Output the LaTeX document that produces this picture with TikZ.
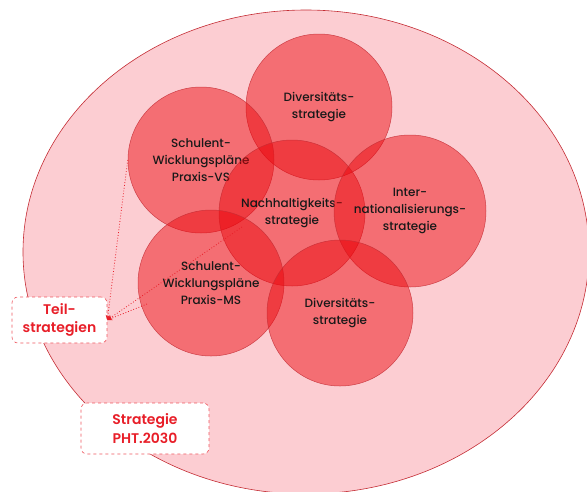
\documentclass[tikz,border=0pt]{standalone}
\usepackage{fontspec}
\setmainfont{Poppins}
\newfontfamily\medfont{Poppins Medium}
\newfontfamily\semifont{Poppins SemiBold}
\usetikzlibrary{calc,arrows.meta}
\tikzset{>={Stealth[length=5pt,width=4.5pt]}}
\definecolor{pinkbg}{RGB}{252,205,210}
\definecolor{rimred}{RGB}{196,44,52}
\definecolor{circred}{RGB}{235,4,10}
\definecolor{tagred}{RGB}{232,30,40}
\tikzset{
  strat/.style={circle,minimum size=146pt,inner sep=0pt,fill=circred,fill opacity=.47,text opacity=1,
    draw=rimred,draw opacity=.8,line width=.5pt,align=center,text=black!90,
    font=\medfont\fontsize{12}{17}\selectfont},
  tag/.style={draw=tagred!75,dashed,line width=.6pt,rounded corners=6pt,fill=white,text=tagred,
    align=center,font=\semifont\fontsize{14}{18.5}\selectfont},
  link/.style={tagred,dotted,line width=.8pt,->}
}

\begin{document}
\begin{tikzpicture}[x=1pt,y=-1pt]
\useasboundingbox (0,0) rectangle (587,491);
\begin{scope}
\clip (0,0) rectangle (587,491);
\draw[rimred,line width=.6pt,fill=pinkbg] (306,252) ellipse [x radius=283pt,y radius=242pt];
\end{scope}
% the six part strategies
\node[strat] (div) at (319,107) {Diversitäts-\\strategie};
\node[strat] (vs) at (201,160) {Schulent-\\Wicklungspläne\\Praxis-VS};
\node[strat] (nach) at (292,213) {Nachhaltigkeits-\\strategie};
\node[strat,minimum size=152pt] (intl) at (410,211) {Inter-\\nationalisierungs-\\strategie};
\node[strat] (ms) at (211,283) {Schulent-\\Wicklungspläne\\Praxis-MS};
\node[strat] (divb) at (340,313) {Diversitäts-\\strategie};
% labels
\node[tag,minimum width=95pt,minimum height=46pt] (teil) at (59.5,320) {Teil-\\strategien};
\node[tag,minimum width=128pt,minimum height=51pt] (pht) at (145,428.5) {Strategie\\PHT.2030};
\coordinate (n1) at ($(nach.center)+(-50,14)$);
\coordinate (m1) at ($(ms.center)+(-64,21)$);
\draw[link] (vs.west) -- (teil.east);
\draw[link] (n1) -- (teil.east);
\draw[link] (m1) -- (teil.east);
\end{tikzpicture}
\end{document}
